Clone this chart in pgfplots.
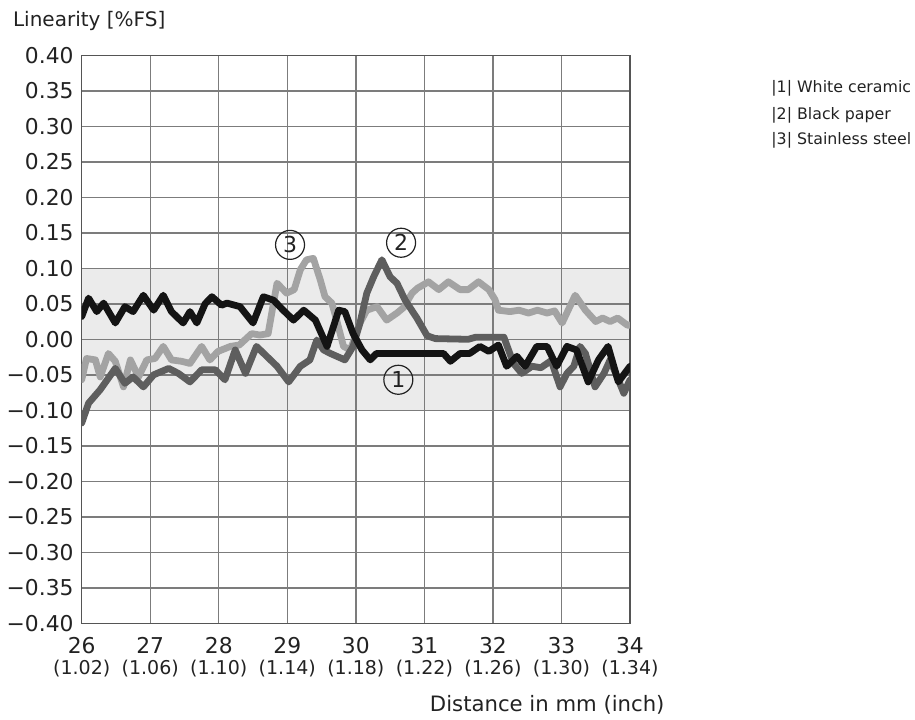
\documentclass[border=0pt]{standalone}
\usepackage{fontspec}
\setmainfont{DejaVu Sans}
\usepackage{pgfplots}
\pgfplotsset{compat=1.18}

\definecolor{bandgray}{HTML}{EBEBEB}
\definecolor{gridgray}{HTML}{7C7C7C}
\definecolor{framegray}{HTML}{555555}
\definecolor{textgray}{HTML}{222222}
\definecolor{ceramic}{HTML}{141414}
\definecolor{paper}{HTML}{5E5E5E}
\definecolor{steel}{HTML}{A3A3A3}

% tick label: mm on top, inch below in a smaller size
\newcommand\xl[2]{#1\\{\fontsize{9.5}{10}\selectfont(#2)}}

\begin{document}
\begin{tikzpicture}
\begin{axis}[
    set layers,
    at={(0,0)}, anchor=south west,
    scale only axis, width=274.15pt, height=284pt,
    xmin=26, xmax=34, ymin=-0.4, ymax=0.4,
    xtick={26,27,28,29,30,31,32,33,34},
    xticklabels={{\xl{26}{1.02}},{\xl{27}{1.06}},{\xl{28}{1.10}},{\xl{29}{1.14}},
        {\xl{30}{1.18}},{\xl{31}{1.22}},{\xl{32}{1.26}},{\xl{33}{1.30}},{\xl{34}{1.34}}},
    ytick={-0.4,-0.35,-0.3,-0.25,-0.2,-0.15,-0.1,-0.05,0,0.05,0.1,0.15,0.2,0.25,0.3,0.35,0.4},
    yticklabels={−0.40,−0.35,−0.30,−0.25,−0.20,−0.15,−0.10,−0.05,0.00,
        0.05,0.10,0.15,0.20,0.25,0.30,0.35,0.40},
    grid=major,
    major grid style={gridgray, line width=0.7pt},
    axis line style={framegray, line width=0.8pt},
    tick style={draw=none},
    ticklabel style={text=textgray},
    xticklabel style={font=\fontsize{10.9}{10.8}\selectfont, align=center,
        inner sep=0pt, anchor=north, yshift=-6.6pt},
    yticklabel style={font=\fontsize{10.9}{12}\selectfont, inner sep=0pt,
        anchor=east, xshift=-3.9pt},
    every axis plot/.append style={line width=3.4pt, line join=round, line cap=round},
]

% the +/-0.10 band
\addplot[on layer=axis background, fill=bandgray, draw=none, line width=0pt]
    coordinates {(26,-0.1) (34,-0.1) (34,0.1) (26,0.1)} \closedcycle;

% |3| Stainless steel
\addplot[steel] coordinates {
(26.00,-0.057) (26.07,-0.027) (26.20,-0.029) (26.27,-0.053) (26.39,-0.020)
(26.49,-0.031) (26.61,-0.067) (26.71,-0.029) (26.83,-0.053) (26.95,-0.029)
(27.07,-0.027) (27.19,-0.010) (27.31,-0.029) (27.46,-0.031) (27.58,-0.034)
(27.75,-0.010) (27.87,-0.029) (27.99,-0.017) (28.17,-0.010) (28.30,-0.008)
(28.48,0.008) (28.60,0.006) (28.72,0.008) (28.85,0.079) (28.99,0.065)
(29.10,0.070) (29.19,0.098) (29.28,0.112) (29.38,0.114) (29.48,0.084)
(29.55,0.060) (29.65,0.051) (29.72,0.027) (29.82,-0.010) (29.92,-0.015)
(30.06,0.023) (30.16,0.041) (30.31,0.046) (30.45,0.027) (30.60,0.037)
(30.70,0.045) (30.82,0.065) (30.90,0.072) (31.06,0.081) (31.21,0.070)
(31.35,0.081) (31.52,0.070) (31.64,0.070) (31.79,0.081) (31.94,0.070)
(32.03,0.056) (32.08,0.041) (32.25,0.039) (32.38,0.041) (32.52,0.037)
(32.65,0.041) (32.79,0.037) (32.90,0.040) (33.01,0.023) (33.20,0.062)
(33.35,0.041) (33.50,0.025) (33.60,0.030) (33.71,0.025) (33.82,0.030)
(33.96,0.020) (34.00,0.020)
};

% |2| Black paper
\addplot[paper] coordinates {
(26.00,-0.118) (26.10,-0.090) (26.27,-0.071) (26.49,-0.041) (26.63,-0.062)
(26.75,-0.053) (26.90,-0.067) (27.05,-0.050) (27.27,-0.041) (27.41,-0.048)
(27.58,-0.060) (27.75,-0.043) (27.95,-0.043) (28.09,-0.057) (28.24,-0.015)
(28.39,-0.048) (28.55,-0.010) (28.70,-0.024) (28.85,-0.038) (29.02,-0.060)
(29.19,-0.038) (29.33,-0.029) (29.43,-0.001) (29.53,-0.015) (29.63,-0.020)
(29.84,-0.029) (29.96,-0.010) (30.06,0.023) (30.16,0.065) (30.26,0.088)
(30.38,0.112) (30.50,0.088) (30.60,0.079) (30.72,0.055) (30.89,0.030)
(31.04,0.005) (31.16,0.001) (31.64,0.000) (31.75,0.003) (32.16,0.003)
(32.30,-0.034) (32.42,-0.048) (32.57,-0.038) (32.70,-0.040) (32.85,-0.030)
(32.98,-0.067) (33.08,-0.048) (33.18,-0.038) (33.27,-0.010) (33.35,-0.020)
(33.49,-0.067) (33.62,-0.048) (33.71,-0.029) (33.91,-0.076) (34.00,-0.057)
};

% |1| White ceramic
\addplot[ceramic] coordinates {
(26.00,0.032) (26.10,0.058) (26.22,0.039) (26.32,0.051) (26.49,0.023)
(26.63,0.046) (26.75,0.039) (26.90,0.062) (27.05,0.041) (27.19,0.062)
(27.31,0.039) (27.48,0.023) (27.58,0.039) (27.68,0.023) (27.80,0.050)
(27.90,0.060) (28.04,0.048) (28.12,0.051) (28.31,0.046) (28.50,0.023)
(28.65,0.060) (28.80,0.055) (28.94,0.041) (29.09,0.027) (29.24,0.041)
(29.41,0.027) (29.58,-0.010) (29.75,0.041) (29.84,0.039) (29.96,0.008)
(30.09,-0.015) (30.21,-0.029) (30.30,-0.020) (31.28,-0.020) (31.38,-0.031)
(31.52,-0.020) (31.66,-0.020) (31.81,-0.010) (31.94,-0.017) (32.08,-0.008)
(32.20,-0.038) (32.35,-0.024) (32.47,-0.038) (32.64,-0.010) (32.79,-0.010)
(32.93,-0.038) (33.08,-0.010) (33.22,-0.015) (33.39,-0.060) (33.54,-0.029)
(33.68,-0.010) (33.83,-0.060) (34.00,-0.038)
};

\tikzset{callout/.style={circle, draw=textgray, text=textgray, line width=0.6pt,
    minimum size=14.5pt, inner sep=0pt, font=\fontsize{11}{11}\selectfont}}
\node[callout] at (axis cs:29.04,0.133) {3};
\node[callout] at (axis cs:30.66,0.136) {2};
\node[callout] at (axis cs:30.62,-0.057) {1};
\end{axis}

% axis titles
\node[anchor=base west, text=textgray, inner sep=0pt, font=\fontsize{10}{12}\selectfont]
    at (-34.5pt,298.3pt) {Linearity [\%FS]};
\node[anchor=base east, text=textgray, inner sep=0pt, font=\fontsize{10.6}{12}\selectfont]
    at (291.6pt,-44.2pt) {Distance in mm (inch)};

% key at the right
\begin{scope}[every node/.style={anchor=base west, inner sep=0pt, text=textgray,
        font=\fontsize{7.9}{9}\selectfont}]
\node at (344.65pt,265.15pt) {|1| White ceramic};
\node at (344.65pt,252.15pt) {|2| Black paper};
\node at (344.65pt,239.15pt) {|3| Stainless steel};
\end{scope}

% page = reference frame, 915 x 719 px at 0.5 pt per px
\pgfresetboundingbox
\useasboundingbox (-40.85pt,-47.85pt) rectangle (416.65pt,311.65pt);
\end{tikzpicture}
\end{document}
